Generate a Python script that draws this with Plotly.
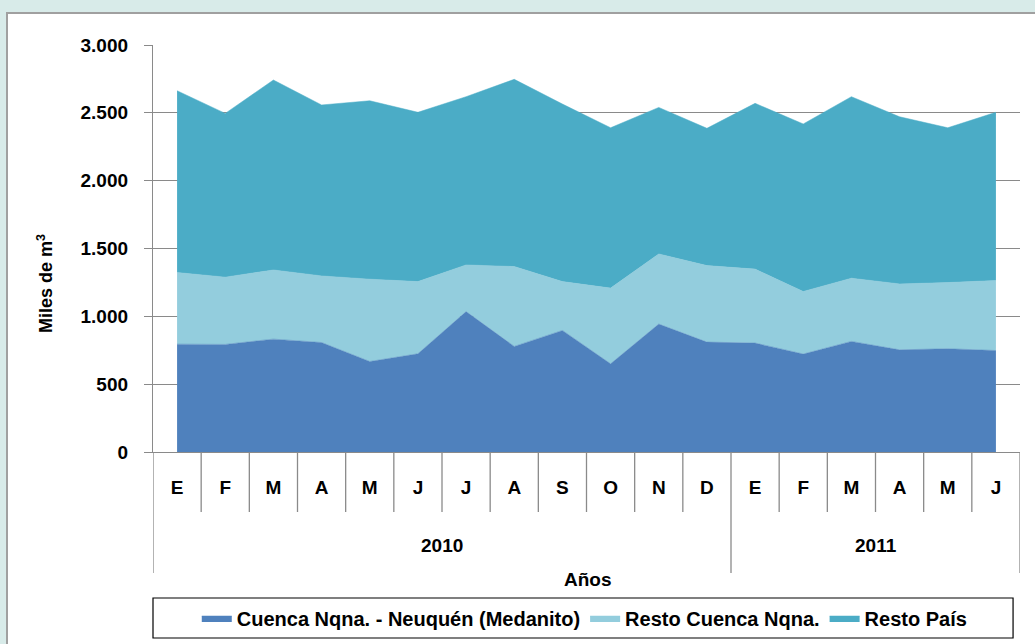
import plotly.graph_objects as go

# month labels (2010: E..D, 2011: E..J)
meses = ['E', 'F', 'M', 'A', 'M', 'J', 'J', 'A', 'S', 'O', 'N', 'D',
         'E', 'F', 'M', 'A', 'M', 'J']
anios = ['2010', '2011']
meses_por_anio = [12, 6]

# miles de m3
medanito = [795, 793, 832, 807, 667, 724, 1035, 778, 896, 650, 943, 810,
            803, 722, 815, 753, 761, 748]
resto_cuenca = [528, 496, 510, 491, 607, 532, 344, 589, 360, 558, 517, 564,
                545, 461, 466, 486, 488, 516]
resto_pais = [1340, 1207, 1400, 1260, 1315, 1248, 1240, 1380, 1309, 1182, 1080, 1012,
              1222, 1235, 1338, 1232, 1141, 1240]

series = [
    ('Cuenca Nqna. - Neuquén (Medanito)', medanito, '#4f81bd'),
    ('Resto Cuenca Nqna.', resto_cuenca, '#93cddd'),
    ('Resto País', resto_pais, '#4bacc6'),
]

FONT = 'Liberation Sans, Arial, sans-serif'
GRID = '#8a8a8a'

x = list(range(len(meses)))

fig = go.Figure()
for name, vals, color in series:
    fig.add_trace(go.Scatter(
        x=x, y=vals, name=f'<b>{name}</b>', mode='lines', stackgroup='uno',
        line={'width': 0.5, 'color': color}, fillcolor=color,
    ))

# plot-area pixel height, used to convert offsets below the axis
H = 407

shapes = [
    # outer white frame
    dict(type='rect', xref='paper', yref='paper', x0=-0.1684, x1=1.05,
         y0=-0.55, y1=1.0786, fillcolor='white',
         line={'color': '#a0a0a0', 'width': 2}, layer='below'),
    # legend box
    dict(type='rect', xref='paper', yref='paper', x0=0, x1=0.992,
         y0=-0.457, y1=-0.3587, line={'color': 'black', 'width': 1.2}),
]
# dividers between months / years under the axis
edges = [-0.5]
acc = -0.5
for n in meses_por_anio:
    acc += n
    edges.append(acc)
for i in range(len(meses) + 1):
    xe = i - 0.5
    depth = 121 if xe in edges else 60
    shapes.append(dict(type='line', xref='x', yref='paper', x0=xe, x1=xe,
                       y0=0, y1=-depth / H, line={'color': GRID, 'width': 1.3}))

annotations = [
    dict(text='<b>Miles de m<sup>3</sup></b>', xref='paper', yref='paper',
         x=-0.1246, y=0.415, xanchor='center', yanchor='middle',
         textangle=-90, showarrow=False, font={'family': FONT, 'size': 18, 'color': 'black'}),
    dict(text='<b>Años</b>', xref='paper', yref='paper', x=0.502, y=-127 / H,
         xanchor='center', yanchor='middle',
         showarrow=False, font={'family': FONT, 'size': 19, 'color': 'black'}),
]
start = 0
for anio, n in zip(anios, meses_por_anio):
    annotations.append(dict(text=f'<b>{anio}</b>', xref='x', yref='paper',
                            x=start + (n - 1) / 2, y=-93 / H, yanchor='middle',
                            showarrow=False,
                            font={'family': FONT, 'size': 19, 'color': 'black'}))
    start += n

fig.update_layout(
    width=1035, height=644,
    margin={'l': 153, 'r': 15, 't': 45, 'b': 192},
    paper_bgcolor='#d8ebe9', plot_bgcolor='white',
    separators=',.',
    showlegend=True,
    legend={'orientation': 'h', 'xref': 'container', 'yref': 'container',
            'x': 0.565, 'xanchor': 'center', 'y': 1 - 618 / 644,
            'yanchor': 'middle', 'traceorder': 'normal', 'bgcolor': 'rgba(0,0,0,0)',
            'font': {'family': FONT, 'size': 20, 'color': 'black'}},
    shapes=shapes,
    annotations=annotations,
    font={'family': FONT, 'color': 'black'},
)
fig.update_xaxes(
    range=[-0.5, len(meses) - 0.5], tickvals=x, ticktext=[f'<b>{m}</b>' for m in meses],
    showgrid=False, zeroline=False, showline=True, linecolor=GRID, linewidth=1.3,
    ticks='', ticklabelstandoff=18, tickfont={'family': FONT, 'size': 19, 'color': 'black'},
)
fig.update_yaxes(
    range=[0, 3000], dtick=500, tickformat=',d', showgrid=True, gridcolor=GRID,
    gridwidth=1.3, zeroline=False, showline=True, linecolor=GRID, linewidth=1.3,
    ticks='outside', ticklen=8, tickcolor=GRID, tickwidth=1.3, ticklabelstandoff=12,
    tickprefix='<b>', ticksuffix='</b>',
    tickfont={'family': FONT, 'size': 19, 'color': 'black'},
)

fig.write_html('out.html', config={'displayModeBar': False},
               post_script="document.body.style.margin='0';")
